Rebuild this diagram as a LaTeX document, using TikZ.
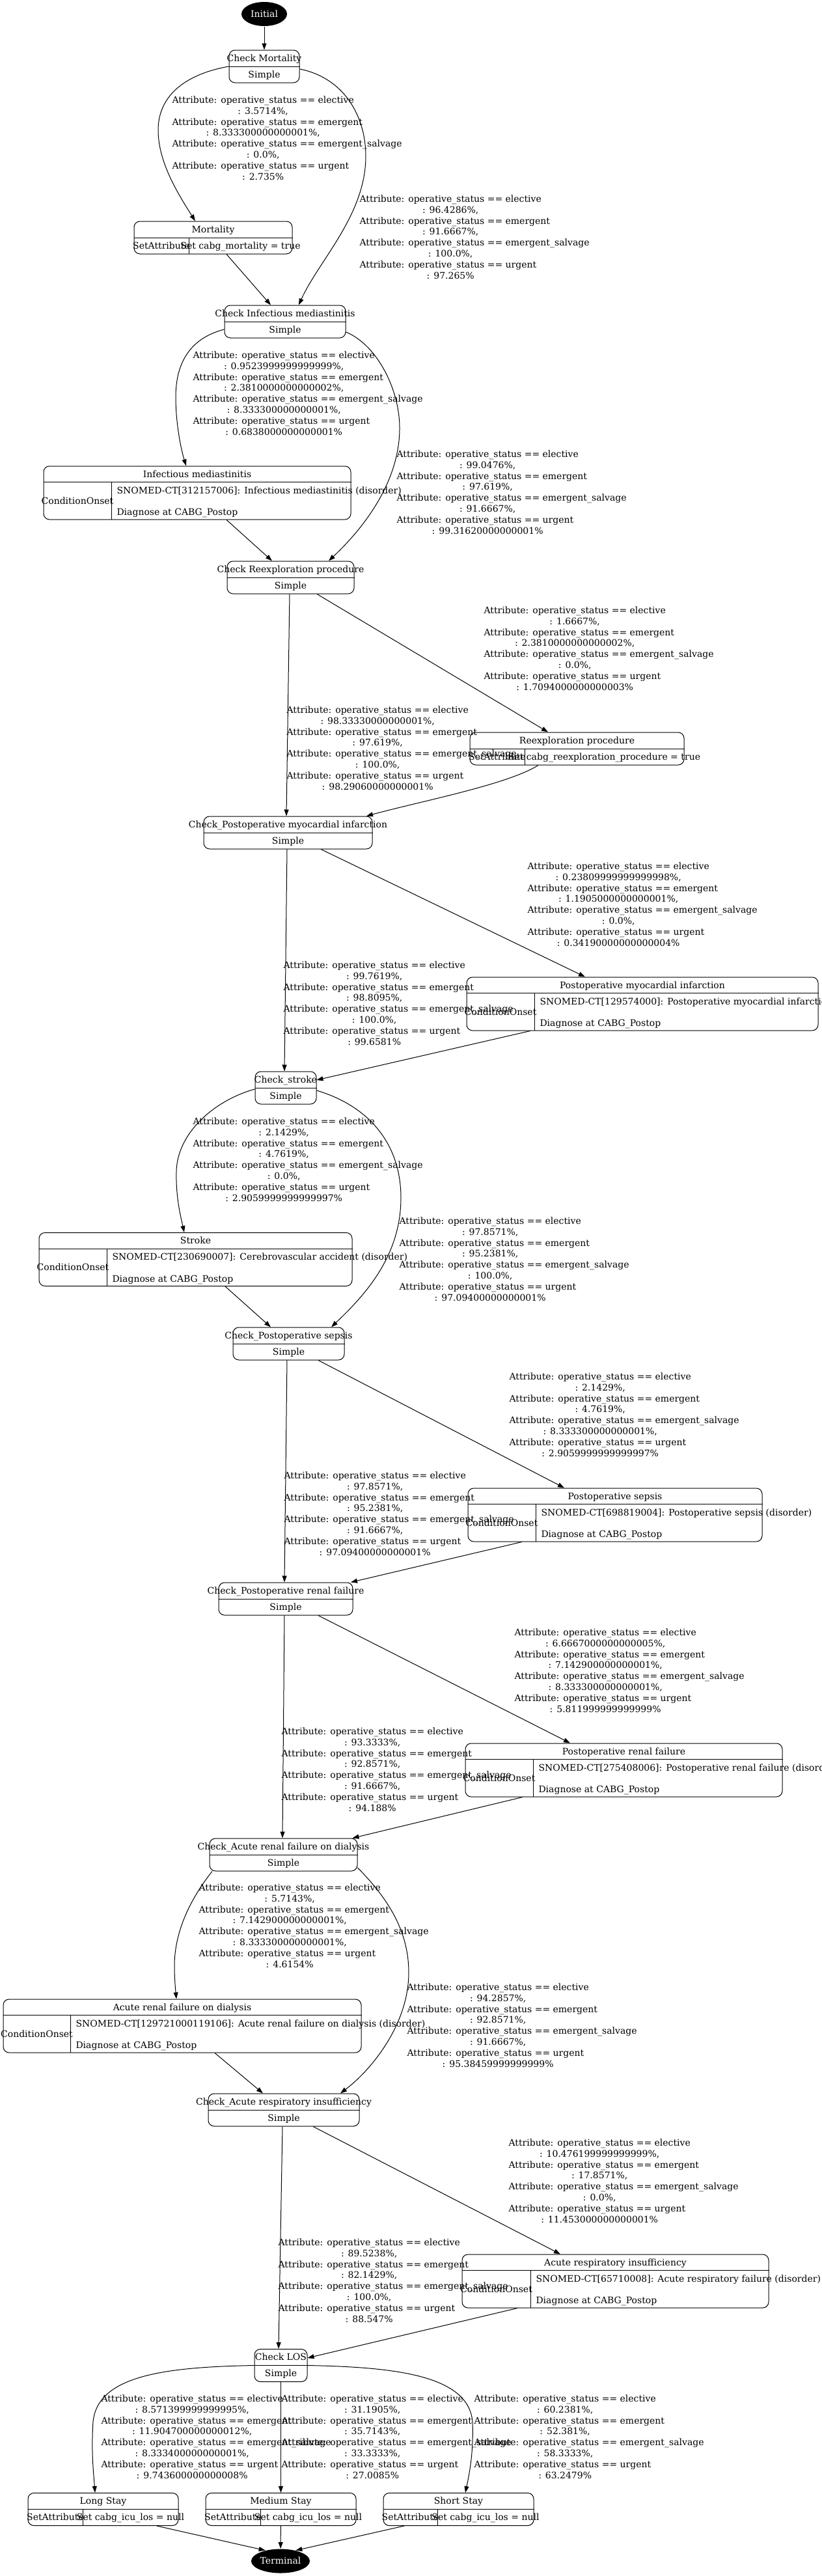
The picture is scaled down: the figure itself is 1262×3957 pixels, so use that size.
\documentclass[tikz,border=0pt]{standalone}
\usepackage{fontspec}
\setmainfont{DejaVu Serif}
\usetikzlibrary{arrows.meta,shapes.geometric}

\newlength{\elw}
\newcommand{\attr}[1]{Attribute: operative\_status == #1}
\newcommand{\edgelab}[7]{%
  \node[lab] (#1) at (#2,#3+4.5) {\settowidth{\elw}{\attr{elective}}%
    \begin{tabular}[t]{@{}l@{}}
      \attr{elective}\\ \makebox[\elw]{: #4\%,}\\
      \attr{emergent}\\ \makebox[\elw]{: #5\%,}\\
      \attr{emergent\_salvage}\\ \makebox[\elw]{: #6\%,}\\
      \attr{urgent}\\ \makebox[\elw]{: #7\%}
    \end{tabular}};}
\newcommand{\chknode}[5]{%
  \node[chk, minimum width=#4pt] (#1) at (#2,#3) {};
  \draw (#1.west) -- (#1.east);
  \node[txt] (#1-t) at (#2,#3-12.5) {#5};
  \node[txt] (#1-s) at (#2,#3+12.5) {Simple};}
\newcommand{\setnode}[7]{%
  \node[rec, minimum width=#4pt, minimum height=50pt] (#1) at (#2,#3) {};
  \draw (#1.west) -- (#1.east);
  \draw (#5,#3) -- (#5,#3+25);
  \node[txt] (#1-t) at (#2,#3-12.5) {#6};
  \node[txt] (#1-k) at ({(#2-#4/2+#5)/2},#3+12.5) {SetAttribute};
  \node[txt] (#1-a) at ({(#2+#4/2+#5)/2},#3+12.5) {#7};}
\newcommand{\condnode}[7]{%
  \node[rec, minimum width=#4pt, minimum height=82pt] (#1) at (#2,#3) {};
  \draw ([yshift=-25pt]#1.north west) -- ([yshift=-25pt]#1.north east);
  \draw (#5,#3-16) -- (#5,#3+41);
  \node[txt] (#1-t) at (#2,#3-28.5) {#6};
  \node[txt] (#1-k) at ({(#2-#4/2+#5)/2},#3+12.5) {ConditionOnset};
  \node[txt, anchor=west] (#1-c) at (#5+8,#3-3.5) {#7};
  \node[txt, anchor=west] (#1-d) at (#5+8,#3+30.1) {Diagnose at CABG\_Postop};}

\begin{document}
\begin{tikzpicture}[x=1pt,y=-1pt,line width=1pt,
    font=\fontsize{14}{16.8}\selectfont,
    arr/.style={-{Triangle[length=10pt,width=7pt]}},
    chk/.style={draw,rounded corners=9pt,minimum height=50pt,inner sep=0pt},
    rec/.style={draw,rounded corners=9pt,inner sep=0pt},
    txt/.style={inner sep=0pt,text height=13pt,text depth=4pt},
    lab/.style={anchor=base west,inner sep=0pt},
    endpt/.style={ellipse,fill=black,text=white,minimum height=37pt,inner sep=0pt,text height=13pt,text depth=4pt}]
    \path[fill=white,use as bounding box] (0,0) rectangle (1262,3957);

    \node[endpt, minimum width=70pt] (init) at (406,21.5) {Initial};
    \chknode{cm}{406}{102}{108}{Check Mortality}
    \setnode{mort}{327.5}{365}{243}{290}{Mortality}{Set cabg\_mortality = true}
    \chknode{cim}{438}{494}{186}{Check Infectious mediastinitis}
    \condnode{im}{303}{757}{472}{171}{Infectious mediastinitis}{SNOMED-CT[312157006]: Infectious mediastinitis (disorder)}
    \chknode{crp}{446.5}{887}{195}{Check Reexploration procedure}
    \setnode{rp}{886.5}{1150}{329}{806}{Reexploration procedure}{Set cabg\_reexploration\_procedure = true}
    \chknode{cpmi}{442.5}{1279}{259}{Check\_Postoperative myocardial infarction}
    \condnode{pmi}{987}{1542}{540}{821}{Postoperative myocardial infarction}{SNOMED-CT[129574000]: Postoperative myocardial infarction (disorder)}
    \chknode{cs}{439}{1671}{94}{Check\_stroke}
    \condnode{stroke}{300.5}{1934.5}{481}{164}{Stroke}{SNOMED-CT[230690007]: Cerebrovascular accident (disorder)}
    \chknode{cps}{443.5}{2064}{171}{Check\_Postoperative sepsis}
    \condnode{ps}{945}{2327}{452}{823}{Postoperative sepsis}{SNOMED-CT[698819004]: Postoperative sepsis (disorder)}
    \chknode{cprf}{439}{2456}{206}{Check\_Postoperative renal failure}
    \condnode{prf}{958.5}{2719}{487}{819}{Postoperative renal failure}{SNOMED-CT[275408006]: Postoperative renal failure (disorder)}
    \chknode{carf}{435.5}{2849}{227}{Check\_Acute renal failure on dialysis}
    \condnode{arf}{280}{3112}{550}{108}{Acute renal failure on dialysis}{SNOMED-CT[129721000119106]: Acute renal failure on dialysis (disorder)}
    \chknode{cari}{436}{3241}{232}{Check\_Acute respiratory insufficiency}
    \condnode{ari}{945.5}{3504}{471}{815}{Acute respiratory insufficiency}{SNOMED-CT[65710008]: Acute respiratory failure (disorder)}
    \chknode{clos}{431.5}{3633.5}{81}{Check LOS}
    \setnode{long}{158.5}{3854.5}{231}{127}{Long Stay}{Set cabg\_icu\_los = null}
    \setnode{med}{431.5}{3854.5}{231}{400}{Medium Stay}{Set cabg\_icu\_los = null}
    \setnode{short}{704.5}{3854.5}{231}{672}{Short Stay}{Set cabg\_icu\_los = null}
    \node[endpt, minimum width=90pt] (final) at (431,3934) {Terminal};

    \edgelab{l1}{264}{154}{3.5714}{8.333300000000001}{0.0}{2.735}
    \edgelab{l2}{552}{306}{96.4286}{91.6667}{100.0}{97.265}
    \edgelab{l3}{296}{546}{0.9523999999999999}{2.3810000000000002}{8.333300000000001}{0.6838000000000001}
    \edgelab{l4}{609}{698}{99.0476}{97.619}{91.6667}{99.31620000000001}
    \edgelab{l5}{743}{938}{1.6667}{2.3810000000000002}{0.0}{1.7094000000000003}
    \edgelab{l6}{440}{1091}{98.33330000000001}{97.619}{100.0}{98.29060000000001}
    \edgelab{l7}{810}{1331}{0.23809999999999998}{1.1905000000000001}{0.0}{0.34190000000000004}
    \edgelab{l8}{435}{1483}{99.7619}{98.8095}{100.0}{99.6581}
    \edgelab{l9}{296}{1723}{2.1429}{4.7619}{0.0}{2.9059999999999997}
    \edgelab{l10}{613}{1876}{97.8571}{95.2381}{100.0}{97.09400000000001}
    \edgelab{l11}{782}{2115}{2.1429}{4.7619}{8.333300000000001}{2.9059999999999997}
    \edgelab{l12}{436}{2267}{97.8571}{95.2381}{91.6667}{97.09400000000001}
    \edgelab{l13}{790}{2508}{6.6667000000000005}{7.142900000000001}{8.333300000000001}{5.811999999999999}
    \edgelab{l14}{432}{2660}{93.3333}{92.8571}{91.6667}{94.188}
    \edgelab{l15}{305}{2900}{5.7143}{7.142900000000001}{8.333300000000001}{4.6154}
    \edgelab{l16}{625}{3053}{94.2857}{92.8571}{91.6667}{95.38459999999999}
    \edgelab{l17}{781}{3292}{10.476199999999999}{17.8571}{0.0}{11.453000000000001}
    \edgelab{l18}{427}{3445}{89.5238}{82.1429}{100.0}{88.547}
    \edgelab{l19}{155}{3685}{8.571399999999995}{11.904700000000012}{8.333400000000001}{9.743600000000008}
    \edgelab{l20}{432}{3685}{31.1905}{35.7143}{33.3333}{27.0085}
    \edgelab{l21}{728}{3685}{60.2381}{52.381}{58.3333}{63.2479}

    \draw[arr] (init) -- (cm);
    \draw[arr] (cm.west) .. controls (280,115) and (243,150) .. (243,200) .. controls (243,250) and (275,300) .. ([xshift=-27.5pt]mort.north);
    \draw[arr] ([yshift=-4pt]cm.east) .. controls (530,120) and (562,180) .. (562,240) .. controls (562,330) and (490,400) .. ([xshift=21pt]cim.north);
    \draw[arr] ([xshift=20.5pt]mort.south) -- ([xshift=-22pt]cim.north);
    \draw[arr] ([yshift=-12pt]cim.west) .. controls (290,520) and (270,560) .. (270,610) .. controls (270,650) and (278,690) .. ([xshift=-17pt]im.north);
    \draw[arr] ([yshift=-16pt]cim.east) .. controls (580,530) and (615,600) .. (614,660) .. controls (613,740) and (560,810) .. ([xshift=58.5pt]crp.north);
    \draw[arr] ([xshift=45pt]im.south) -- ([xshift=-28.5pt]crp.north);
    \draw[arr] ([xshift=40.5pt]crp.south) -- ([xshift=-44.5pt]rp.north);
    \draw[arr] ([xshift=-1.5pt]crp.south) -- ([xshift=-2.5pt]cpmi.north);
    \draw[arr] ([xshift=-59.5pt]rp.south) .. controls (780,1205) and (650,1230) .. ([xshift=120.5pt]cpmi.north);
    \draw[arr] ([xshift=50.5pt]cpmi.south) -- ([xshift=-88pt]pmi.north);
    \draw[arr] ([xshift=-1.5pt]cpmi.south) -- ([xshift=-2pt]cs.north);
    \draw[arr] ([xshift=-172pt]pmi.south) -- ([yshift=12pt]cs.east);
    \draw[arr] ([yshift=-2pt]cs.west) .. controls (330,1690) and (272,1740) .. (271,1800) .. controls (270,1840) and (278,1870) .. ([xshift=-17.5pt]stroke.north);
    \draw[arr] ([yshift=-4pt]cs.east) .. controls (570,1700) and (616,1760) .. (616,1840) .. controls (616,1930) and (560,1990) .. ([xshift=65.5pt]cps.north);
    \draw[arr] ([xshift=45.5pt]stroke.south) -- ([xshift=-27.5pt]cps.north);
    \draw[arr] ([xshift=45.5pt]cps.south) -- ([xshift=-78pt]ps.north);
    \draw[arr] ([xshift=-2.5pt]cps.south) -- ([xshift=-2pt]cprf.north);
    \draw[arr] ([xshift=-143pt]ps.south) -- ([xshift=100pt]cprf.north);
    \draw[arr] ([xshift=50pt]cprf.south) -- ([xshift=-82.5pt]prf.north);
    \draw[arr] ([xshift=-2pt]cprf.south) -- ([xshift=-1.5pt]carf.north);
    \draw[arr] ([xshift=-155.5pt]prf.south) -- ([xshift=106pt]carf.north);
    \draw[arr] ([xshift=-109.5pt]carf.south) .. controls (290,2920) and (268,2970) .. (268,3020) .. controls (268,3040) and (270,3060) .. ([xshift=-9pt]arf.north);
    \draw[arr] ([yshift=-20pt]carf.east) .. controls (600,2920) and (628,2970) .. (628,3030) .. controls (628,3110) and (570,3180) .. ([xshift=87pt]cari.north);
    \draw[arr] ([xshift=50pt]arf.south) -- ([xshift=-32pt]cari.north);
    \draw[arr] ([xshift=45pt]cari.south) -- ([xshift=-84.5pt]ari.north);
    \draw[arr] ([xshift=-2pt]cari.south) -- ([xshift=-3.5pt]clos.north);
    \draw[arr] ([xshift=-150.5pt]ari.south) -- ([yshift=11.5pt]clos.east);
    \draw[arr] (clos.west) .. controls (250,3636) and (150,3650) .. (143,3720) .. controls (140,3770) and (144,3800) .. ([xshift=-12.5pt]long.north);
    \draw[arr] (clos) -- (med);
    \draw[arr] (clos.east) .. controls (612,3636) and (720,3650) .. (726,3720) .. controls (728,3770) and (720,3805) .. ([xshift=10.5pt]short.north);
    \draw[arr] ([xshift=82.5pt]long.south) -- (final.145);
    \draw[arr] (med) -- (final);
    \draw[arr] ([xshift=-83.5pt]short.south) -- (final.35);
\end{tikzpicture}
\end{document}
